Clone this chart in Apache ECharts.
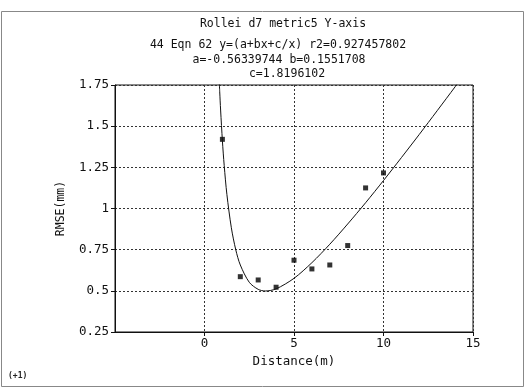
<!DOCTYPE html>
<html><head><meta charset="utf-8">
<script src="https://cdn.jsdelivr.net/npm/echarts@6/dist/echarts.min.js"></script>
<style>html,body{margin:0;padding:0;background:#fff}#c{width:526px;height:389px}</style>
</head><body><div id="c"></div>
<script>
// Measured points
const distance = [1, 2, 3, 4, 5, 6, 7, 8, 9, 10];
const rmse = [1.42, 0.586, 0.566, 0.522, 0.686, 0.633, 0.657, 0.775, 1.125, 1.216];
// Fitted curve
const curveX = [0.83, 0.85, 0.9, 1.0, 1.1, 1.25, 1.5, 1.75, 2, 2.5, 3, 3.4, 4, 5, 6, 7, 8, 9, 10, 11, 12, 13, 14, 14.1];
const curveY = [1.758, 1.709, 1.598, 1.411, 1.262, 1.086, 0.883, 0.748, 0.657, 0.552, 0.509, 0.499, 0.512, 0.576, 0.671, 0.783, 0.906, 1.035, 1.170, 1.309, 1.450, 1.594, 1.739, 1.754];
const titleLines = ['Rollei d7 metric5 Y-axis', '44 Eqn 62 y=(a+bx+c/x) r2=0.927457802', 'a=-0.56339744 b=0.1551708', 'c=1.8196102'];

const mono = '"DejaVu Sans Mono", monospace';
const chart = echarts.init(document.getElementById('c'), null, {renderer: 'canvas'});
chart.setOption({
  animation: false,
  backgroundColor: '#fff',
  graphic: [
    {type: 'rect', shape: {x: 1.5, y: 11.5, width: 522, height: 375}, style: {fill: 'none', stroke: '#888', lineWidth: 1}},
    {type: 'text', left: 8, top: 372, style: {text: '(+1)', font: 'bold 8px ' + mono, fill: '#222'}},
    {type: 'text', x: 283, y: 18, style: {text: titleLines[0], font: '11.5px ' + mono, fill: '#111', align: 'center'}},
    {type: 'text', x: 278, y: 39, style: {text: titleLines[1], font: '11.5px ' + mono, fill: '#111', align: 'center'}},
    {type: 'text', x: 279, y: 54, style: {text: titleLines[2], font: '11.5px ' + mono, fill: '#111', align: 'center'}},
    {type: 'text', x: 287, y: 68, style: {text: titleLines[3], font: '11.5px ' + mono, fill: '#111', align: 'center'}}
  ],
  grid: {left: 115, right: 53, top: 85, bottom: 57, show: true, borderColor: '#111', borderWidth: 1},
  xAxis: {
    type: 'value', min: -5, max: 15, interval: 5,
    name: 'Distance(m)', nameLocation: 'middle', nameGap: 20,
    nameTextStyle: {fontFamily: 'DejaVu Sans Mono', fontSize: 12.5, color: '#111'},
    axisLine: {onZero: false, lineStyle: {color: '#111'}},
    axisTick: {show: true, length: 4, lineStyle: {color: '#111'}},
    axisLabel: {showMinLabel: false, fontFamily: 'DejaVu Sans Mono', fontSize: 12.5, color: '#111', margin: 5},
    splitLine: {show: true, lineStyle: {type: [2, 2], color: '#333', width: 1}}
  },
  yAxis: {
    type: 'value', min: 0.25, max: 1.75, interval: 0.25,
    name: 'RMSE(mm)', nameLocation: 'middle', nameGap: 48,
    nameTextStyle: {fontFamily: 'DejaVu Sans Mono', fontSize: 11.5, color: '#111'},
    axisLine: {show: true, onZero: false, lineStyle: {color: '#111'}},
    axisTick: {show: true, length: 4, lineStyle: {color: '#111'}},
    axisLabel: {fontFamily: 'DejaVu Sans Mono', fontSize: 12.5, color: '#111', margin: 6, formatter: v => String(+v.toFixed(2))},
    splitLine: {show: true, lineStyle: {type: [2, 2], color: '#333', width: 1}}
  },
  series: [
    {type: 'line', data: curveX.map((x, i) => [x, curveY[i]]), smooth: 0.3, showSymbol: false, clip: true,
     lineStyle: {color: '#111', width: 1}},
    {type: 'scatter', data: distance.map((x, i) => [x, rmse[i]]), symbol: 'rect', symbolSize: 5,
     itemStyle: {color: '#000'}}
  ]
});
</script></body></html>
